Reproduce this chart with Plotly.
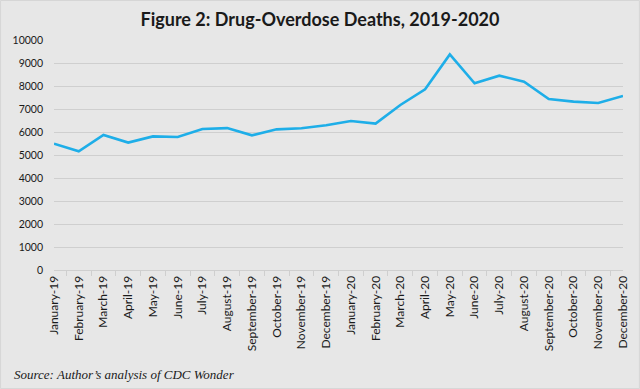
import plotly.graph_objects as go

months = ["January-19", "February-19", "March-19", "April-19", "May-19", "June-19",
          "July-19", "August-19", "September-19", "October-19", "November-19", "December-19",
          "January-20", "February-20", "March-20", "April-20", "May-20", "June-20",
          "July-20", "August-20", "September-20", "October-20", "November-20", "December-20"]
deaths = [5490, 5160, 5870, 5540, 5810, 5780, 6130, 6170, 5855, 6115, 6160, 6290,
          6480, 6365, 7175, 7855, 9375, 8115, 8450, 8190, 7435, 7320, 7260, 7565]
y_ticks = [0, 1000, 2000, 3000, 4000, 5000, 6000, 7000, 8000, 9000, 10000]

bg = "#e7e7e7"
fig = go.Figure()
fig.add_trace(go.Scatter(x=months, y=deaths, mode="lines",
                         line=dict(color="#1eaee8", width=2.6), showlegend=False))

fig.update_layout(
    width=640, height=389,
    paper_bgcolor=bg, plot_bgcolor=bg,
    margin=dict(l=54, r=17, t=40, b=119, autoexpand=False),
    font=dict(family="Lato, Open Sans, sans-serif", color="#1a1a1a", size=11),
    title=dict(text="<b>Figure 2: Drug-Overdose Deaths, 2019-2020</b>",
               x=0.5, xanchor="center", xref="container", y=1 - 20/389, yref="container",
               yanchor="middle", automargin=False,
               font=dict(size=18, family="Lato, Open Sans, sans-serif", color="#1a1a1a")),
    xaxis=dict(type="category", tickangle=-90, showgrid=False, automargin=False,
               showline=True, linecolor="#cfcfcf", linewidth=1,
               ticks="outside", tickson="boundaries", ticklen=5, tickcolor="#cfcfcf",
               tickfont=dict(size=12)),
    yaxis=dict(range=[0, 10000], tickvals=y_ticks, tickformat="d", showgrid=True,
               gridcolor="#cfcfcf", automargin=False,
               gridwidth=1, zeroline=False, showline=False, ticks="",
               ticklabelstandoff=10, tickfont=dict(size=10.5)),
    annotations=[dict(text="Source: Author\u2019s analysis of CDC Wonder",
                      xref="paper", yref="paper", x=-42/569, y=-104/230,
                      xanchor="left", yanchor="middle", showarrow=False,
                      font=dict(family="Liberation Serif", style="italic",
                                size=13, color="#1a1a1a"))],
    shapes=[dict(type="rect", xref="paper", yref="paper", x0=-54/569+0.001, x1=1+17/569-0.001,
                 y0=-119/230+0.002, y1=1+40/230-0.002, line=dict(color="#d6d6d6", width=1),
                 layer="below")],
)
fig.write_html("out.html", config={"displayModeBar": False},
               post_script="document.body.style.margin='0';document.body.style.padding='0';")
